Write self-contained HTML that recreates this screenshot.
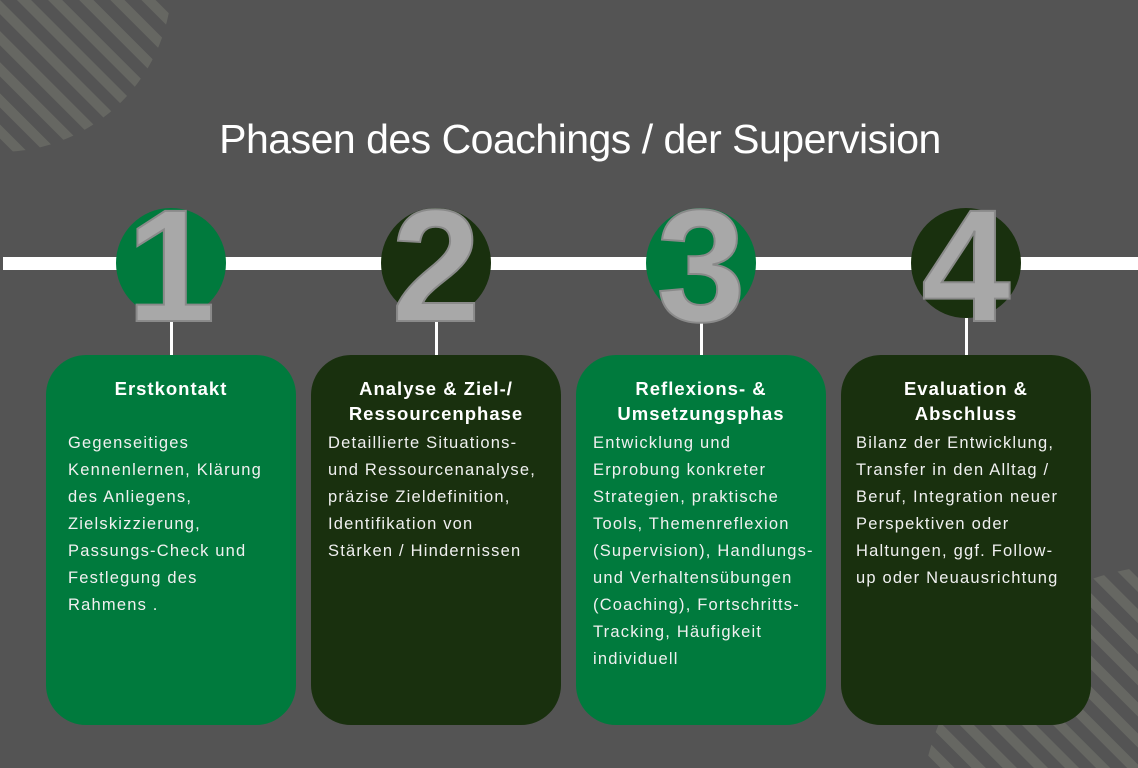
<!DOCTYPE html>
<html><head><meta charset="utf-8"><style>
body{margin:0;width:1138px;height:768px;overflow:hidden;background:#545454;font-family:"Liberation Sans",sans-serif;position:relative}
.abs{position:absolute}
.title{left:0;width:1160px;top:116px;text-align:center;color:#fff;font-size:41px;letter-spacing:-0.5px;font-weight:300}
.line{left:3px;width:1135px;top:257px;height:13px;background:#fff}
.circ{width:110px;height:110px;border-radius:50%;top:208px}
.g{background:#007a3d}.d{background:#19300e}
.vl{width:3px;background:#fff;top:318px;height:38px}
.num{top:186px;width:140px;text-align:center;font-size:160px;font-weight:bold;color:#a8a8a8;-webkit-text-stroke:2px #8a8a8a;line-height:1}
.box{top:355px;width:250px;height:370px;border-radius:40px;color:#fff}
.box h3{margin:0;position:absolute;top:21px;left:-20px;width:290px;text-align:center;font-size:18.5px;line-height:25px;font-weight:bold;letter-spacing:1px}
.box p{margin:0;position:absolute;top:75px;left:22px;right:0;font-size:16.5px;line-height:27px;color:#f0f0f0;white-space:nowrap;letter-spacing:1.2px}
</style></head><body>
<svg class="abs" style="left:0;top:0" width="1138" height="768">
<defs>
<pattern id="st" width="22" height="22" patternUnits="userSpaceOnUse" patternTransform="rotate(45)">
<rect width="22" height="10" fill="#666762"/></pattern>
<clipPath id="c1"><circle cx="0" cy="-20" r="172"/></clipPath>
<clipPath id="c2"><circle cx="1175" cy="820" r="255"/></clipPath>
</defs>
<rect x="0" y="0" width="200" height="160" fill="url(#st)" clip-path="url(#c1)"/>
<rect x="900" y="560" width="238" height="208" fill="url(#st)" clip-path="url(#c2)"/>
</svg>
<div class="abs title">Phasen des Coachings / der Supervision</div>
<div class="abs line"></div>
<div class="abs circ g" style="left:116px"></div>
<div class="abs circ d" style="left:381px"></div>
<div class="abs circ g" style="left:646px"></div>
<div class="abs circ d" style="left:911px"></div>
<div class="abs vl" style="left:170px"></div>
<div class="abs vl" style="left:435px"></div>
<div class="abs vl" style="left:700px"></div>
<div class="abs vl" style="left:965px"></div>
<div class="abs num" style="left:101px">1</div>
<div class="abs num" style="left:366px">2</div>
<div class="abs num" style="left:631px">3</div>
<div class="abs num" style="left:896px">4</div>
<div class="abs box g" style="left:46px"><h3>Erstkontakt</h3><p>Gegenseitiges<br>Kennenlernen, Klärung<br>des Anliegens,<br>Zielskizzierung,<br>Passungs-Check und<br>Festlegung des<br>Rahmens .</p></div>
<div class="abs box d" style="left:311px"><h3>Analyse &amp; Ziel-/<br>Ressourcenphase</h3><p style="left:17px">Detaillierte Situations-<br>und Ressourcenanalyse,<br>präzise Zieldefinition,<br>Identifikation von<br>Stärken / Hindernissen</p></div>
<div class="abs box g" style="left:576px"><h3>Reflexions- &amp;<br>Umsetzungsphas</h3><p style="left:17px">Entwicklung und<br>Erprobung konkreter<br>Strategien, praktische<br>Tools, Themenreflexion<br>(Supervision), Handlungs-<br>und Verhaltensübungen<br>(Coaching), Fortschritts-<br>Tracking, Häufigkeit<br>individuell</p></div>
<div class="abs box d" style="left:841px"><h3>Evaluation &amp;<br>Abschluss</h3><p style="left:15px">Bilanz der Entwicklung,<br>Transfer in den Alltag /<br>Beruf, Integration neuer<br>Perspektiven oder<br>Haltungen, ggf. Follow-<br>up oder Neuausrichtung</p></div>
</body></html>
